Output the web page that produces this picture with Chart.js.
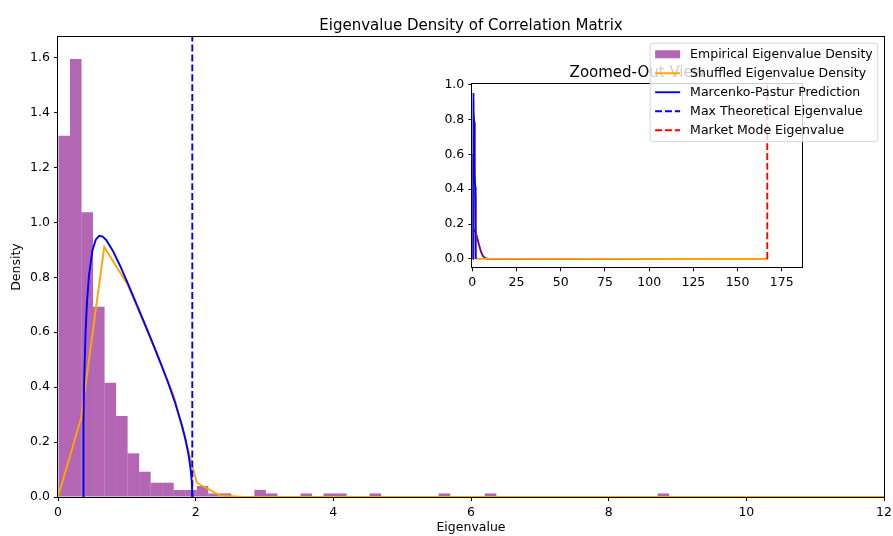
<!DOCTYPE html>
<html>
<head>
<meta charset="utf-8">
<title>Eigenvalue Density of Correlation Matrix</title>
<script src="https://cdn.jsdelivr.net/npm/chart.js@4.4.1/dist/chart.umd.min.js"></script>
<style>
  html, body { margin: 0; padding: 0; background: #fff; }
  #wrap { position: relative; width: 893px; height: 536px; }
  #mainChart { position: absolute; left: 0; top: 0; z-index: 2; }
  #insetChart { position: absolute; left: 420px; top: 60px; z-index: 1; }
</style>
</head>
<body>
<div id="wrap">
  <canvas id="insetChart" width="400" height="230"></canvas>
  <canvas id="mainChart" width="893" height="536"></canvas>
</div>
<script>
// histogram of the eigenvalues (density per bin)
var binStart = 0.007;
var binWidth = 0.1674;
var empiricalDensity = [1.315, 1.595, 1.037, 0.693, 0.416, 0.295, 0.159, 0.092, 0.052, 0.052,
  0.0255, 0.0255, 0.040, 0.013, 0.013, 0, 0, 0.026, 0.013, 0,
  0, 0.013, 0, 0.013, 0.013, 0, 0, 0.013, 0, 0,
  0, 0, 0, 0.013, 0, 0, 0, 0.013, 0, 0,
  0, 0, 0, 0, 0, 0, 0, 0, 0, 0,
  0, 0, 0.013];

// density of the shuffled returns' eigenvalues
var shuffledX = [0, 0.336, 0.672, 1.008, 1.344, 1.680, 2.016, 2.352, 2.687, 166.8];
var shuffledY = [0, 0.288, 0.910, 0.775, 0.578, 0.370, 0.052, 0.006, 0.0005, 0];

// Marcenko-Pastur density
var mpX = [0.364, 0.37, 0.38, 0.40, 0.42, 0.45, 0.50, 0.55, 0.60, 0.65, 0.70, 0.80, 0.90,
  1.00, 1.10, 1.20, 1.30, 1.40, 1.50, 1.60, 1.70, 1.80, 1.85, 1.90, 1.93, 1.945, 1.951];
var mpY = [0, 0.266, 0.422, 0.597, 0.705, 0.807, 0.898, 0.938, 0.951, 0.948, 0.936, 0.895, 0.843,
  0.786, 0.727, 0.667, 0.607, 0.545, 0.482, 0.416, 0.344, 0.261, 0.212, 0.149, 0.095, 0.051, 0];

// smoothed eigenvalue density for the wide view
var kdeX = [0, 1, 2, 3, 4, 5, 6, 7, 8, 9, 10, 12, 166.8];
var kdeY = [0.155, 0.166, 0.149, 0.113, 0.072, 0.0385, 0.0174, 0.0066, 0.0021, 0.0006, 0.0001, 0, 0];

var lambdaMax = 1.951;
var marketEigen = 166.8;

var seriesLabels = ['Empirical Eigenvalue Density', 'Shuffled Eigenvalue Density',
  'Marcenko-Pastur Prediction', 'Max Theoretical Eigenvalue', 'Market Mode Eigenvalue'];

var mainXTicks = [0, 2, 4, 6, 8, 10, 12];
var mainYTicks = [0, 0.2, 0.4, 0.6, 0.8, 1.0, 1.2, 1.4, 1.6];
var insetXTicks = [0, 25, 50, 75, 100, 125, 150, 175];
var insetYTicks = [0, 0.2, 0.4, 0.6, 0.8, 1.0];

var PURPLE = '#800080', ORANGE = '#ffa500', BLUE = '#0000ff', RED = '#ff0000';
var LW = 1.9;
var DASH = [6.9, 3];

Chart.defaults.font.family = '"DejaVu Sans", sans-serif';
Chart.defaults.font.size = 12.5;
Chart.defaults.color = '#000';

function pts(xs, ys) {
  return xs.map(function(x, i) { return {x: x, y: ys[i]}; });
}

function lineSet(label, data, color, order, dash) {
  return {
    type: 'line', label: label, data: data,
    borderColor: color, borderWidth: LW, borderDash: dash || [],
    pointRadius: 0, fill: false, tension: 0, order: order
  };
}

function axis(min, max, ticks, fmt, size, title, titlePad) {
  return {
    type: 'linear', min: min, max: max, offset: false,
    afterBuildTicks: function(s) { s.ticks = ticks.map(function(v) { return {value: v}; }); },
    afterFit: function(s) {
      if (s.isHorizontal()) s.height = size; else s.width = size;
      // keep the plot box where the layout padding puts it
      s.paddingLeft = s.paddingRight = s.paddingTop = s.paddingBottom = 0;
    },
    ticks: { color: '#000', padding: 4, maxRotation: 0, autoSkip: false, callback: fmt },
    grid: { offset: false, drawOnChartArea: false, drawTicks: true, tickLength: 4, color: '#000', lineWidth: 1 },
    border: { display: false },
    title: title ? { display: true, text: title, color: '#000', font: {size: 12.5}, padding: titlePad } : { display: false }
  };
}

// spines on all four sides, drawn over the data
var frame = {
  id: 'frame',
  afterDatasetsDraw: function(chart) {
    var a = chart.chartArea, ctx = chart.ctx;
    ctx.save();
    ctx.strokeStyle = '#000';
    ctx.lineWidth = 1;
    ctx.strokeRect(Math.round(a.left) - 0.5, Math.round(a.top) - 0.5,
      Math.round(a.right) - Math.round(a.left) + 1, Math.round(a.bottom) - Math.round(a.top) + 1);
    ctx.restore();
  }
};

function axesTitle(text) {
  return {
    id: 'axesTitle',
    afterDraw: function(chart) {
      var a = chart.chartArea, ctx = chart.ctx;
      ctx.save();
      ctx.font = '15px "DejaVu Sans"';
      ctx.fillStyle = '#000';
      ctx.textAlign = 'center';
      ctx.textBaseline = 'alphabetic';
      ctx.fillText(text, (a.left + a.right) / 2, a.top - 7.5);
      ctx.restore();
    }
  };
}

// legend box in the upper right corner of the main axes
var legendBox = {
  id: 'legendBox',
  afterDraw: function(chart) {
    var a = chart.chartArea, ctx = chart.ctx;
    var styles = [
      {kind: 'patch', color: 'rgba(128,0,128,0.6)'},
      {kind: 'line', color: ORANGE},
      {kind: 'line', color: BLUE},
      {kind: 'line', color: BLUE, dash: DASH},
      {kind: 'line', color: RED, dash: DASH}
    ];
    ctx.save();
    ctx.font = '12.5px "DejaVu Sans"';
    var tw = 0;
    seriesLabels.forEach(function(t) { tw = Math.max(tw, ctx.measureText(t).width); });
    var w = 5 + 25 + 10 + tw + 5, h = 98.4;
    var x = a.right - 6.25 - w, y = a.top + 6.25, r = 2.5;
    ctx.beginPath();
    ctx.moveTo(x + r, y);
    ctx.arcTo(x + w, y, x + w, y + h, r);
    ctx.arcTo(x + w, y + h, x, y + h, r);
    ctx.arcTo(x, y + h, x, y, r);
    ctx.arcTo(x, y, x + w, y, r);
    ctx.closePath();
    ctx.fillStyle = 'rgba(255,255,255,0.8)';
    ctx.fill();
    ctx.strokeStyle = 'rgba(204,204,204,0.8)';
    ctx.lineWidth = 1;
    ctx.stroke();
    seriesLabels.forEach(function(t, i) {
      var cy = y + 11 + i * 19, hx = x + 5;
      var st = styles[i];
      if (st.kind === 'patch') {
        ctx.fillStyle = st.color;
        ctx.fillRect(hx, cy - 4, 25, 8);
      } else {
        ctx.beginPath();
        ctx.setLineDash(st.dash || []);
        ctx.strokeStyle = st.color;
        ctx.lineWidth = LW;
        ctx.moveTo(hx, cy);
        ctx.lineTo(hx + 25, cy);
        ctx.stroke();
        ctx.setLineDash([]);
      }
      ctx.fillStyle = '#000';
      ctx.textAlign = 'left';
      ctx.textBaseline = 'middle';
      ctx.fillText(t, hx + 35, cy);
    });
    ctx.restore();
  }
};

var mainYMax = 1.675;

new Chart(document.getElementById('mainChart'), {
  type: 'bar',
  data: {
    datasets: [
      {
        type: 'bar', label: seriesLabels[0],
        data: empiricalDensity.map(function(d, i) { return {x: binStart + (i + 0.5) * binWidth, y: d}; }),
        backgroundColor: 'rgba(128,0,128,0.6)', borderWidth: 0, inflateAmount: 0,
        barPercentage: 1, categoryPercentage: 1, order: 4
      },
      lineSet(seriesLabels[1], pts(shuffledX, shuffledY), ORANGE, 3),
      lineSet(seriesLabels[2], pts(mpX, mpY), BLUE, 2),
      lineSet(seriesLabels[3], pts([lambdaMax, lambdaMax], [0, mainYMax]), BLUE, 1, DASH)
    ]
  },
  options: {
    responsive: false, animation: false, devicePixelRatio: 1, events: [],
    layout: { padding: {left: 0, right: 9, top: 37, bottom: 0} },
    scales: {
      x: axis(0, 12, mainXTicks, function(v) { return String(v); }, 39, 'Eigenvalue', {top: 0, bottom: 0.5}),
      y: axis(0, mainYMax, mainYTicks, function(v) { return v.toFixed(1); }, 58, 'Density', {top: 9.5, bottom: 0})
    },
    plugins: { legend: {display: false}, tooltip: {enabled: false}, title: {display: false} }
  },
  plugins: [frame, axesTitle('Eigenvalue Density of Correlation Matrix'), legendBox]
});

new Chart(document.getElementById('insetChart'), {
  type: 'line',
  data: {
    datasets: [
      lineSet('KDE', pts(kdeX, kdeY), PURPLE, 4),
      lineSet(seriesLabels[1], pts(shuffledX, shuffledY), ORANGE, 3),
      lineSet(seriesLabels[2], pts(mpX, mpY), BLUE, 2),
      lineSet(seriesLabels[4], pts([marketEigen, marketEigen], [0, 1]), RED, 1, DASH)
    ]
  },
  options: {
    responsive: false, animation: false, devicePixelRatio: 1, events: [],
    layout: { padding: {left: 0, right: 17.7, top: 24, bottom: 0} },
    scales: {
      x: axis(0, 186.6, insetXTicks, function(v) { return String(v); }, 22.7),
      y: axis(-0.048, 1.003, insetYTicks, function(v) { return v.toFixed(1); }, 52.3)
    },
    plugins: { legend: {display: false}, tooltip: {enabled: false}, title: {display: false} }
  },
  plugins: [frame, axesTitle('Zoomed-Out View')]
});
</script>
</body>
</html>
